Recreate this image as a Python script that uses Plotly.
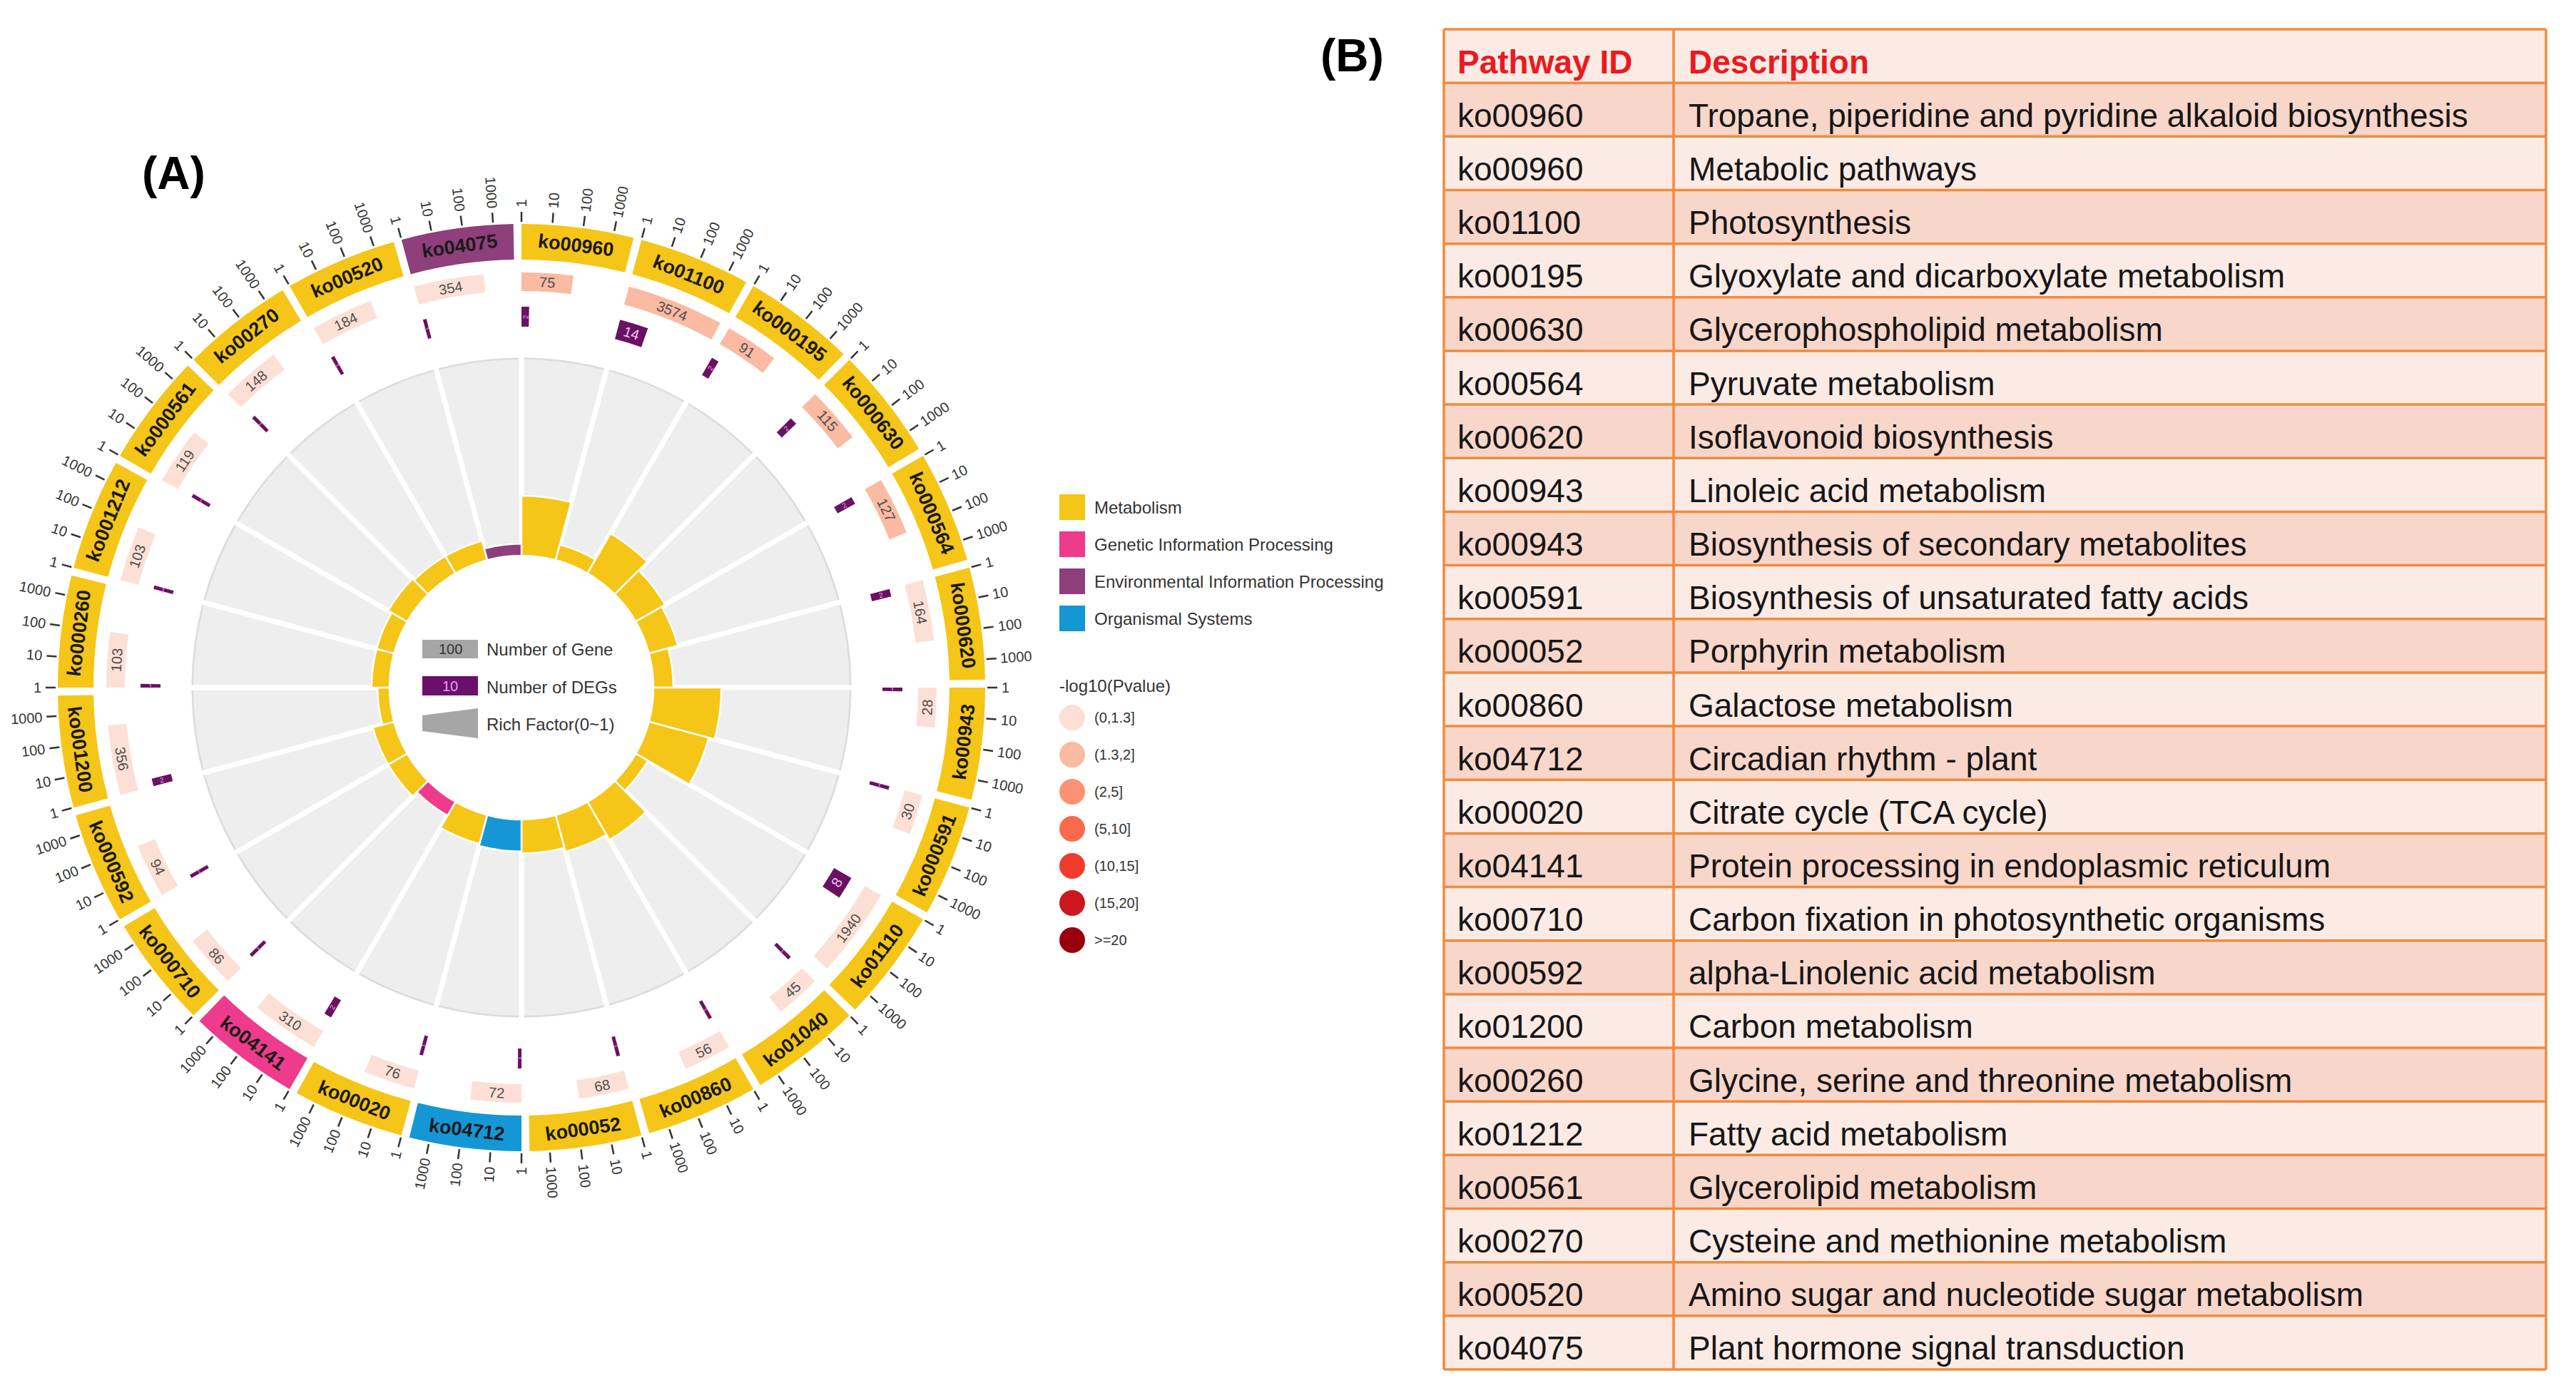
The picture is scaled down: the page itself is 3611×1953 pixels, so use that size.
import math
import plotly.graph_objects as go

# ---------------- data ----------------
pathway_ids = ["ko00960", "ko01100", "ko000195", "ko000630", "ko000564", "ko000620",
               "ko00943", "ko000591", "ko01110", "ko01040", "ko00860", "ko00052",
               "ko04712", "ko00020", "ko04141", "ko000710", "ko000592", "ko001200",
               "ko000260", "ko001212", "ko000561", "ko00270", "ko00520", "ko04075"]
pathway_class = ["Metabolism"] * 12 + ["Organismal Systems", "Metabolism",
                 "Genetic Information Processing"] + ["Metabolism"] * 8 + \
                ["Environmental Information Processing"]
gene_numbers = [75, 3574, 91, 115, 127, 164, 28, 30, 1940, 45, 56, 68,
                72, 76, 310, 86, 94, 356, 103, 103, 119, 148, 184, 354]
deg_numbers = [2, 14, 2, 2, 2, 2, 1, 1, 8, 1, 1, 1,
               1, 1, 2, 1, 1, 2, 1, 1, 1, 1, 1, 1]
rich_factor = [0.030, 0.008, 0.023, 0.017, 0.015, 0.010, 0.034, 0.031, 0.007, 0.022, 0.019, 0.017,
               0.016, 0.015, 0.008, 0.011, 0.011, 0.006, 0.009, 0.009, 0.011, 0.010, 0.010, 0.006]
pvalue_class = ["(1.3,2]"] * 5 + ["(0,1.3]"] * 19
scale_tick_labels = ["1", "10", "100", "1000"]
class_names = ["Metabolism", "Genetic Information Processing",
               "Environmental Information Processing", "Organismal Systems"]
pvalue_bins = ["(0,1.3]", "(1.3,2]", "(2,5]", "(5,10]", "(10,15]", "(15,20]", ">=20"]
table_header = ["Pathway ID", "Description"]
table_pathway_ids = ["ko00960", "ko00960", "ko01100", "ko00195", "ko00630", "ko00564",
                     "ko00620", "ko00943", "ko00943", "ko00591", "ko00052", "ko00860",
                     "ko04712", "ko00020", "ko04141", "ko00710", "ko00592", "ko01200",
                     "ko00260", "ko01212", "ko00561", "ko00270", "ko00520", "ko04075"]
table_descriptions = ["Tropane, piperidine and pyridine alkaloid biosynthesis",
                      "Metabolic pathways", "Photosynthesis",
                      "Glyoxylate and dicarboxylate metabolism",
                      "Glycerophospholipid metabolism", "Pyruvate metabolism",
                      "Isoflavonoid biosynthesis", "Linoleic acid metabolism",
                      "Biosynthesis of secondary metabolites",
                      "Biosynthesis of unsaturated fatty acids", "Porphyrin metabolism",
                      "Galactose metabolism", "Circadian rhythm - plant",
                      "Citrate cycle (TCA cycle)",
                      "Protein processing in endoplasmic reticulum",
                      "Carbon fixation in photosynthetic organisms",
                      "alpha-Linolenic acid metabolism", "Carbon metabolism",
                      "Glycine, serine and threonine metabolism", "Fatty acid metabolism",
                      "Glycerolipid metabolism", "Cysteine and methionine metabolism",
                      "Amino sugar and nucleotide sugar metabolism",
                      "Plant hormone signal transduction"]

# ---------------- styles / geometry ----------------
CLASS_COLORS = {"Metabolism": "#F5C518", "Genetic Information Processing": "#EE3B8B",
                "Environmental Information Processing": "#8E3F7C", "Organismal Systems": "#1597D6"}
PBIN_COLORS = dict(zip(pvalue_bins, ["#fde0d5", "#fbbaa2", "#fc9272", "#fb6a4a",
                                     "#ef3b2c", "#cb181d", "#99000d"]))
DEG_COLOR = "#6a1163"
FONT = "Liberation Sans, Arial, sans-serif"

W, H, PAD = 3611, 1953, 8
CX, CY, RP = 731, 964, 700
SEC = 15.0
DPD = 3.83            # degrees per decade on the log scales
R_HOLE, R_GRAY = 185, 466
RF_SCALE = 2800
DEG_R0, DEG_R1 = 506, 534
GENE_R0, GENE_R1 = 556, 582
CAT_R0, CAT_R1 = 600, 650
TICK_R0, TICK_R1 = 653, 667
TICKLAB_R = 673


def fx(X):
    return (X - PAD) / (W - 2 * PAD)


def fy(Y):
    return 1 - (Y - PAD) / (H - 2 * PAD)


def xy(r, th):
    a = math.radians(th)
    return CX + r * math.sin(a), CY - r * math.cos(a)


def tang(th):
    t = th % 360
    if 90 < t < 270:
        return t - 180
    return t if t <= 180 else t - 360


def radial(th):
    t = th % 360
    return t - 90 if t < 180 else t - 270


n = len(pathway_ids)
starts = [SEC * i for i in range(n)]
centers = [s + SEC / 2 for s in starts]

fig = go.Figure()

# background grey wedges
fig.add_trace(go.Barpolar(theta=centers, r=[R_GRAY - R_HOLE] * n, base=R_HOLE, width=[SEC] * n,
                          marker=dict(color="#eeeeee", line=dict(color="white", width=7)),
                          hoverinfo="skip", showlegend=False))
# faint outer rim of the grey wedges
fig.add_trace(go.Barpolar(theta=centers, r=[2.5] * n, base=R_GRAY - 6, width=[SEC - 0.9] * n,
                          marker=dict(color="#dcdcdc", line=dict(width=0)),
                          hoverinfo="skip", showlegend=False))
# rich factor bars
for cname in class_names:
    idx = [i for i in range(n) if pathway_class[i] == cname]
    fig.add_trace(go.Barpolar(theta=[centers[i] for i in idx],
                              r=[rich_factor[i] * RF_SCALE for i in idx], base=R_HOLE,
                              width=[SEC] * len(idx),
                              marker=dict(color=CLASS_COLORS[cname], line=dict(color="white", width=2.5)),
                              hoverinfo="skip", showlegend=False))
# DEG boxes
deg_w = [max(math.log10(d) * DPD, 0.55) for d in deg_numbers]
fig.add_trace(go.Barpolar(theta=[starts[i] + deg_w[i] / 2 for i in range(n)],
                          r=[DEG_R1 - DEG_R0] * n, base=DEG_R0, width=deg_w,
                          marker=dict(color=DEG_COLOR, line=dict(width=0)),
                          hoverinfo="skip", showlegend=False))
# gene number boxes
gene_w = [math.log10(g) * DPD for g in gene_numbers]
fig.add_trace(go.Barpolar(theta=[starts[i] + gene_w[i] / 2 for i in range(n)],
                          r=[GENE_R1 - GENE_R0] * n, base=GENE_R0, width=gene_w,
                          marker=dict(color=[PBIN_COLORS[p] for p in pvalue_class], line=dict(width=0)),
                          hoverinfo="skip", showlegend=False))
# category ring
fig.add_trace(go.Barpolar(theta=[s + 7.0 for s in starts], r=[CAT_R1 - CAT_R0] * n, base=CAT_R0,
                          width=[14.0] * n,
                          marker=dict(color=[CLASS_COLORS[c] for c in pathway_class], line=dict(width=0)),
                          hoverinfo="skip", showlegend=False))
# scale ticks
tick_dec = [math.log10(int(t)) for t in scale_tick_labels]
tr, tt = [], []
for s in starts:
    for d in tick_dec:
        tr += [TICK_R0, TICK_R1, None]
        tt += [s + d * DPD, s + d * DPD, None]
fig.add_trace(go.Scatterpolar(r=tr, theta=tt, mode="lines", line=dict(color="#333333", width=2.5),
                              connectgaps=False, hoverinfo="skip", showlegend=False))
# dummy cartesian trace for overlay axes
fig.add_trace(go.Scatter(x=[None], y=[None], mode="markers", showlegend=False, hoverinfo="skip"))

ann = []


def add_text(x, y, text, size, color="#333333", angle=0, bold=False, xanchor="center"):
    if bold:
        text = "<b>" + text + "</b>"
    ann.append(dict(x=x, y=y, xref="x", yref="y", text=text, showarrow=False, textangle=angle,
                    font=dict(family=FONT, size=size, color=color), xanchor=xanchor, yanchor="middle"))


for i in range(n):
    # category labels
    th = starts[i] + 7.0
    x, y = xy((CAT_R0 + CAT_R1) / 2, th)
    add_text(x, y, pathway_ids[i], 27, "#1a1a1a", tang(th), bold=True)
    # gene numbers
    th = starts[i] + gene_w[i] / 2
    x, y = xy((GENE_R0 + GENE_R1) / 2, th)
    add_text(x, y, str(gene_numbers[i]), 20, "#4d4d4d", tang(th))
    # DEG numbers
    th = starts[i] + deg_w[i] / 2
    x, y = xy((DEG_R0 + DEG_R1) / 2, th)
    if deg_numbers[i] >= 5:
        add_text(x, y, str(deg_numbers[i]), 20, "#f2c4f0", tang(th))
    else:
        add_text(x, y, str(deg_numbers[i]), 10, "#e9a6e9", radial(th))
    # scale tick labels
    for lbl, d in zip(scale_tick_labels, tick_dec):
        th = starts[i] + d * DPD
        L = len(lbl) * 0.556 * 20
        x, y = xy(TICKLAB_R + L / 2, th)
        add_text(x, y, lbl, 20, "#333333", radial(th))

# panel labels
add_text(243, 243, "(A)", 64, "#000000", bold=True)
add_text(1895, 78, "(B)", 64, "#000000", bold=True)

shapes = []
# inner legend
shapes.append(dict(type="rect", xref="x", yref="y", x0=592, x1=670, y0=897, y1=923,
                   fillcolor="#a6a6a6", line=dict(width=0)))
shapes.append(dict(type="rect", xref="x", yref="y", x0=592, x1=670, y0=948, y1=975,
                   fillcolor="#6b0f6b", line=dict(width=0)))
shapes.append(dict(type="path", xref="x", yref="y", path="M 592,1003 L 670,993 L 670,1035 L 592,1025 Z",
                   fillcolor="#a6a6a6", line=dict(width=0)))
add_text(631, 910, "100", 20, "#333333")
add_text(631, 962, "10", 20, "#e7a1e7")
add_text(680, 910, "Number of Gene", 24, "#333333", xanchor="left")
add_text(680, 963, "Number of DEGs", 24, "#333333", xanchor="left")
add_text(680, 1015, "Rich Factor(0~1)", 24, "#333333", xanchor="left")

# class legend
for k, cname in enumerate(class_names):
    yc = 711 + k * 52
    shapes.append(dict(type="rect", xref="x", yref="y", x0=1485, x1=1521, y0=yc - 18, y1=yc + 18,
                       fillcolor=CLASS_COLORS[cname], line=dict(width=0)))
    add_text(1532, yc, cname, 24, "#333333", xanchor="left")
# p-value legend
add_text(1483, 961, "-log10(Pvalue)", 24, "#333333", xanchor="left")
for k, b in enumerate(pvalue_bins):
    yc = 1006 + k * 52
    shapes.append(dict(type="circle", xref="x", yref="y", x0=1485, x1=1521, y0=yc - 18, y1=yc + 18,
                       fillcolor=PBIN_COLORS[b], line=dict(width=0)))
    add_text(1532, yc, b, 20, "#333333", xanchor="left")

# ---------------- table (B) ----------------
T_L, T_DIV, T_R, T_T, T_B = 2024, 2346, 3569, 41, 1920
BORDER = "#f28a3c"
rows = [table_header] + [[a, b] for a, b in zip(table_pathway_ids, table_descriptions)]
RH = (T_B - T_T) / len(rows)
for k, (c1, c2) in enumerate(rows):
    y0 = T_T + k * RH
    fill = "#fcebe5" if k % 2 == 0 else "#f8d6ca"
    shapes.append(dict(type="rect", xref="x", yref="y", x0=T_L, x1=T_R, y0=y0, y1=y0 + RH,
                       fillcolor=fill, line=dict(width=0), layer="below"))
    yc = y0 + RH / 2 + 8
    if k == 0:
        add_text(T_L + 17, yc, c1, 46, "#ea1a1f", bold=True, xanchor="left")
        add_text(T_DIV + 19, yc, c2, 46, "#ea1a1f", bold=True, xanchor="left")
    else:
        add_text(T_L + 17, yc, c1, 46, "#161616", xanchor="left")
        add_text(T_DIV + 19, yc, c2, 46, "#161616", xanchor="left")
for k in range(len(rows) + 1):
    yk = T_T + k * RH
    shapes.append(dict(type="line", xref="x", yref="y", x0=T_L, x1=T_R, y0=yk, y1=yk,
                       line=dict(color=BORDER, width=3.5)))
for xk in (T_L, T_DIV, T_R):
    shapes.append(dict(type="line", xref="x", yref="y", x0=xk, x1=xk, y0=T_T, y1=T_B,
                       line=dict(color=BORDER, width=3.5)))

fig.update_layout(
    width=W - 2 * PAD, height=H - 2 * PAD, autosize=False,
    margin=dict(l=0, r=0, t=0, b=0, pad=0),
    paper_bgcolor="white", plot_bgcolor="rgba(0,0,0,0)",
    showlegend=False,
    xaxis=dict(range=[PAD, W - PAD], domain=[0, 1], visible=False, fixedrange=True),
    yaxis=dict(range=[H - PAD, PAD], domain=[0, 1], visible=False, fixedrange=True),
    polar=dict(domain=dict(x=[fx(CX - RP), fx(CX + RP)], y=[fy(CY + RP), fy(CY - RP)]),
               bgcolor="rgba(0,0,0,0)", barmode="overlay", hole=0,
               radialaxis=dict(range=[0, RP], visible=False),
               angularaxis=dict(rotation=90, direction="clockwise", visible=False)),
    annotations=ann, shapes=shapes,
)

fig.write_html("out.html")
